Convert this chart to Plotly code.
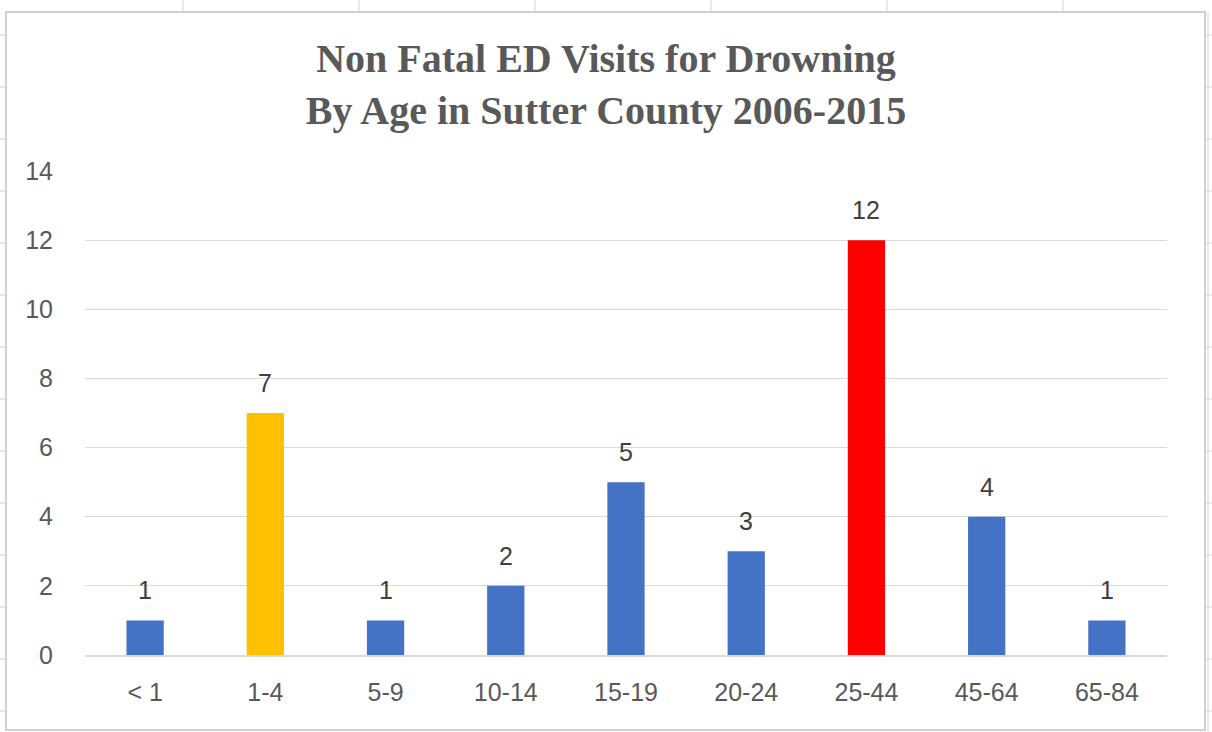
import plotly.graph_objects as go

categories = ["< 1", "1-4", "5-9", "10-14", "15-19", "20-24", "25-44", "45-64", "65-84"]
visits = [1, 7, 1, 2, 5, 3, 12, 4, 1]
bar_colors = ["#4472C4", "#FFC000", "#4472C4", "#4472C4", "#4472C4", "#4472C4", "#FF0000", "#4472C4", "#4472C4"]
y_ticks = [0, 2, 4, 6, 8, 10, 12, 14]

W, H = 1212, 732
L, R, T, B = 85, 45, 171, 77
PW, PH = W - L - R, H - T - B


def px(x):
    return (x - L) / PW


def py(y):
    return (H - B - y) / PH


fig = go.Figure()
fig.add_trace(go.Bar(
    x=categories, y=visits,
    marker=dict(color=bar_colors, line=dict(width=0)),
    hoverinfo="x+y",
))

annotations = [
    dict(x=c, y=v, xref="x", yref="y", text=str(v), showarrow=False,
         yanchor="bottom", yshift=14,
         font=dict(family="Liberation Sans, Arial", size=25, color="#404040"))
    for c, v in zip(categories, visits)
]

shapes = []
# spreadsheet cell lines around the chart
for x in [183, 359, 535, 711, 887, 1063]:
    shapes.append(dict(type="line", xref="paper", yref="paper", x0=px(x), x1=px(x), y0=py(0), y1=py(12),
                       line=dict(color="#d4d4d4", width=1), layer="below"))
for y in [35, 87, 139, 191, 243, 295, 347, 399, 451, 503, 555, 607, 659, 711]:
    for xa, xb in [(0, 6), (1205, 1212)]:
        shapes.append(dict(type="line", xref="paper", yref="paper", x0=px(xa), x1=px(xb),
                           y0=py(y), y1=py(y), line=dict(color="#d4d4d4", width=1), layer="below"))
for x in [1208]:
    shapes.append(dict(type="line", xref="paper", yref="paper", x0=px(x), x1=px(x), y0=py(12), y1=py(732),
                       line=dict(color="#d4d4d4", width=1), layer="below"))
# chart border
shapes.append(dict(type="rect", xref="paper", yref="paper", x0=px(6), x1=px(1205), y0=py(730), y1=py(12),
                   line=dict(color="#d0d0d0", width=2), fillcolor="rgba(0,0,0,0)", layer="below"))

fig.update_layout(
    width=W, height=H,
    margin=dict(l=L, r=R, t=T, b=B, autoexpand=False),
    paper_bgcolor="white", plot_bgcolor="white",
    bargap=0.69,
    showlegend=False,
    title=dict(
        text="Non Fatal ED Visits for Drowning<br>By Age in Sutter County 2006-2015",
        x=0.5, xanchor="center", y=1 - 72 / H, yanchor="top",
        font=dict(family="Liberation Serif, Times New Roman", size=40, color="#595959", weight="bold"),
    ),
    xaxis=dict(
        showgrid=False, showline=True, linecolor="#d9d9d9", linewidth=2,
        tickfont=dict(family="Liberation Sans, Arial", size=25, color="#595959"),
        ticks="outside", ticklen=14, tickcolor="rgba(0,0,0,0)",
    ),
    yaxis=dict(
        range=[0, 14], tickvals=y_ticks, showgrid=True, gridcolor="#d9d9d9", gridwidth=1,
        zeroline=False, showline=False,
        tickfont=dict(family="Liberation Sans, Arial", size=25, color="#595959"),
        ticks="outside", ticklen=26, tickcolor="rgba(0,0,0,0)",
    ),
    shapes=shapes,
    annotations=annotations,
    font=dict(family="Liberation Sans, Arial"),
)

fig.write_html("out.html", config={"displayModeBar": False},
               post_script="document.body.style.margin='0';document.body.style.overflow='hidden';")
